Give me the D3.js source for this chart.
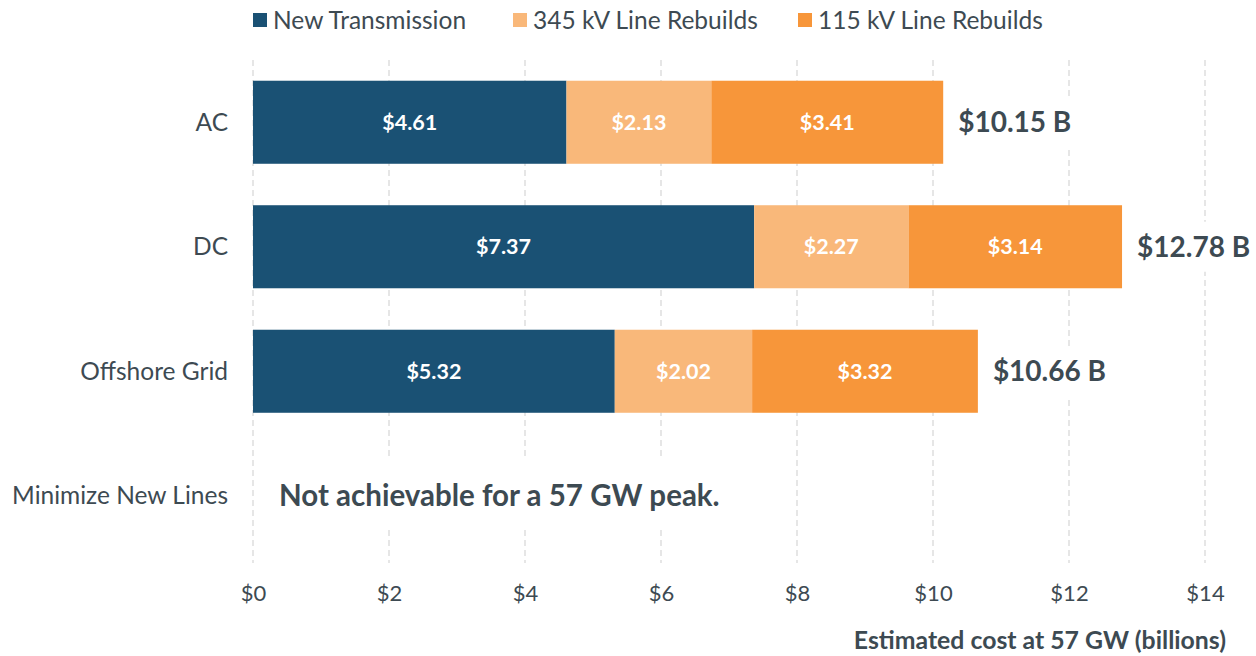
<!DOCTYPE html>
<html><head><meta charset="utf-8">
<script src="https://cdn.jsdelivr.net/npm/d3@7"></script>
<style>body{margin:0;background:#fff;} svg{display:block;font-family:Lato,"Open Sans",sans-serif;}</style>
</head><body>
<svg id="c" width="1256" height="656"></svg>
<script>
const categories = ["AC", "DC", "Offshore Grid", "Minimize New Lines"];
const seriesNames = ["New Transmission", "345 kV Line Rebuilds", "115 kV Line Rebuilds"];
const newTransmission = [4.61, 7.37, 5.32, null];
const rebuilds345 = [2.13, 2.27, 2.02, null];
const rebuilds115 = [3.41, 3.14, 3.32, null];
const totals = [10.15, 12.78, 10.66, null];
const xTicks = [0, 2, 4, 6, 8, 10, 12, 14];
const colors = ["#1a5174", "#f9b87a", "#f7963a"];
const note = "Not achievable for a 57 GW peak.";
const axisTitle = "Estimated cost at 57 GW (billions)";

const svg = d3.select("#c");
const textColor = "#3d4a52";
const x = d3.scaleLinear().domain([0, 14]).range([253, 1205]);
const y = d3.scaleBand().domain(categories).range([60, 558]).paddingInner(0.333).paddingOuter(0.1665);

// gridlines
const grid = svg.append("g");
grid.selectAll("line").data(xTicks).join("line")
  .attr("x1", d => x(d)).attr("x2", d => x(d))
  .attr("y1", 60).attr("y2", 563)
  .attr("stroke", "#d9d9d9").attr("stroke-width", 1.3).attr("stroke-dasharray", "6,4");

// stacked data
const series = [newTransmission, rebuilds345, rebuilds115];
const rows = categories.map((c, i) => {
  let acc = 0;
  return series.map((s, k) => {
    const v = s[i];
    if (v == null) return null;
    const seg = {cat: c, k, v, x0: acc, x1: acc + v};
    acc += v;
    return seg;
  }).filter(d => d);
}).flat();

const bars = svg.append("g");
bars.selectAll("rect").data(rows).join("rect")
  .attr("x", d => x(d.x0)).attr("width", d => x(d.x1) - x(d.x0))
  .attr("y", d => y(d.cat)).attr("height", y.bandwidth())
  .attr("fill", d => colors[d.k]);

bars.selectAll("text").data(rows).join("text")
  .attr("x", d => (x(d.x0) + x(d.x1)) / 2)
  .attr("y", d => y(d.cat) + y.bandwidth() / 2)
  .attr("dy", "0.35em").attr("text-anchor", "middle")
  .attr("fill", "#fff").attr("font-weight", 700).attr("font-size", 21.5)
  .text(d => "$" + d.v.toFixed(2));

// totals with white label boxes
const totG = svg.append("g");
categories.forEach((c, i) => {
  if (totals[i] == null) return;
  const cy = y(c) + y.bandwidth() / 2;
  const tx = x(totals[i]) + 15;
  const t = totG.append("text").attr("x", tx).attr("y", cy).attr("dy", "0.35em")
    .attr("fill", textColor).attr("font-weight", 700).attr("font-size", 28)
    .text("$" + totals[i].toFixed(2) + " B");
  const bb = t.node().getBBox();
  totG.insert("rect", "text").attr("x", bb.x - 6).attr("y", cy - 25).attr("width", bb.width + 12).attr("height", 50).attr("fill", "#fff");
});

// note
const noteY = y(categories[3]) + y.bandwidth() / 2;
svg.append("rect").attr("x", 262).attr("y", noteY - 36).attr("width", 520).attr("height", 68).attr("fill", "#fff");
svg.append("text").attr("x", 279).attr("y", noteY).attr("dy", "0.35em")
  .attr("fill", textColor).attr("font-weight", 700).attr("font-size", 29.5).text(note);

// y labels
svg.append("g").selectAll("text").data(categories).join("text")
  .attr("x", 228).attr("y", d => y(d) + y.bandwidth() / 2).attr("dy", "0.35em")
  .attr("text-anchor", "end").attr("fill", textColor).attr("font-size", 24.5).text(d => d);

// x axis
const xAxis = svg.append("g").attr("transform", "translate(0,580)")
  .call(d3.axisBottom(x).tickValues(xTicks).tickFormat(d => "$" + d).tickSize(0).tickPadding(5));
xAxis.select(".domain").remove();
xAxis.selectAll("text").attr("font-size", 22).attr("fill", textColor).attr("font-family", "Lato,'Open Sans',sans-serif");

svg.append("text").attr("x", 1226).attr("y", 640).attr("dy", "0.35em").attr("text-anchor", "end")
  .attr("fill", textColor).attr("font-weight", 700).attr("font-size", 24.8).text(axisTitle);

// legend
const legX = [253, 513, 798];
const leg = svg.append("g");
seriesNames.forEach((n, i) => {
  leg.append("rect").attr("x", legX[i]).attr("y", 13).attr("width", 14).attr("height", 14).attr("fill", colors[i]);
  leg.append("text").attr("x", legX[i] + 20).attr("y", 20).attr("dy", "0.35em")
    .attr("fill", textColor).attr("font-size", 24.5).text(n);
});
</script>
</body></html>
